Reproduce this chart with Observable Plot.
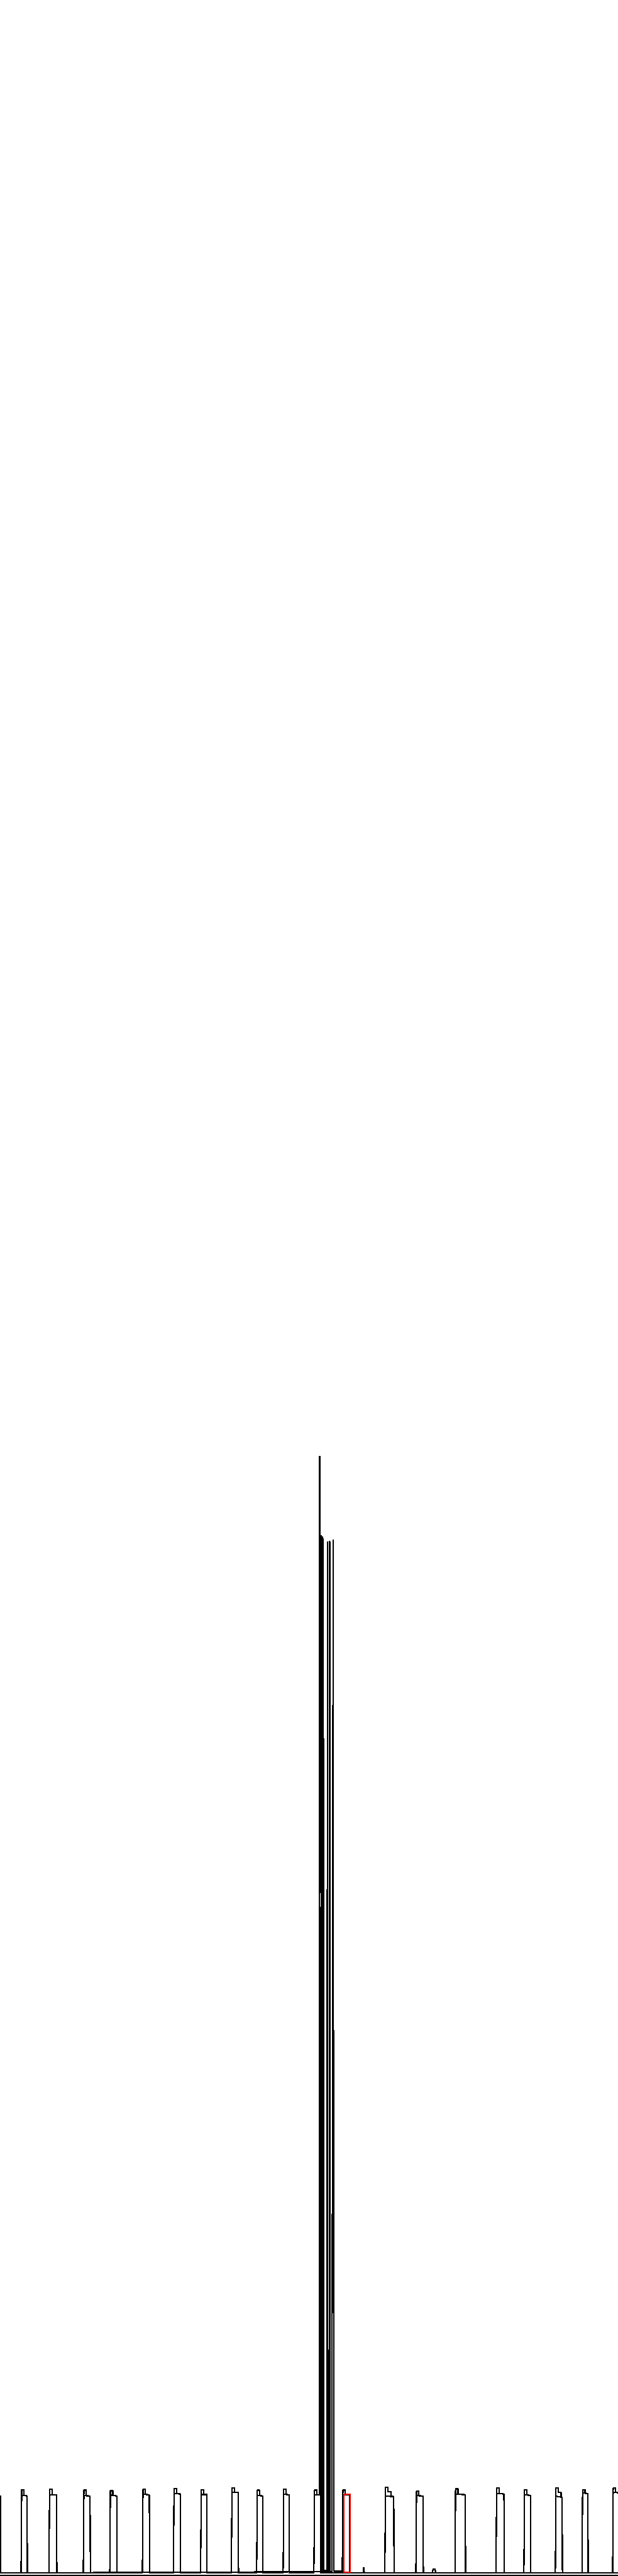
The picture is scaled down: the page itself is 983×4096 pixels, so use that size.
<!DOCTYPE html>
<html><head><meta charset="utf-8">
<script src="https://cdn.jsdelivr.net/npm/d3@7"></script>
<script src="https://cdn.jsdelivr.net/npm/@observablehq/plot@0.6"></script>
<style>html,body{margin:0;padding:0;background:#fff;overflow:hidden}#chart svg{display:block}</style>
</head><body><div id="chart"></div>
<script>
// Recurring pulses (day numbers and values)
const peakStart = [-8.25, 24.9, 57.4, 97.4, 128.25, 166.25, 202.4, 234.1, 269.9, 299.4, 330.25, 366.1, 399.15, 448.75, 484.9, 530.4, 578.25, 610.75, 647.4, 678.4, 714.1];
const peakEnd   = [0.25, 31.25, 65.6, 104.6, 135.6, 173.6, 209.6, 240.6, 277.25, 305.6, 336.4, 372.9, 406.75, 458.4, 492.6, 541.75, 586.75, 617.6, 654.6, 684.6, 723];
const capValue  = [19.4, 19.4, 19.55, 19.3, 19.15, 19.5, 19.7, 19.4, 19.85, 19.3, 19.5, 19.3, 19.3, 19.9, 19.05, 19.6, 19.8, 19.4, 19.8, 19.4, 19.8];
const topValue  = [17.9, 18.15, 18.25, 18.05, 18.15, 18.35, 18.55, 18.25, 18.85, 18.05, 18.35, 18.2, 18.25, 18.9, 18.05, 18.35, 18.55, 18.25, 18.75, 18.65, 18.75];
const endValue  = [17.9, 17.95, 18.15, 17.9, 17.95, 18.2, 18.4, 18.3, 18.75, 17.95, 18.2, 18.15, 18.15, 17.8, 17.9, 18.25, 18.4, 18.05, 17.6, 18.45, 18.7];
const shelfEnd  = [null, null, null, null, null, null, null, null, null, null, null, null, null, 455.0, null, null, null, null, 653.3, null, null];
const lowerTop  = [null, null, null, null, null, null, null, null, null, null, null, null, null, 17.9, null, null, null, null, 17.9, null, null];

// The cluster of very large values around days 371-389
const clusterA = [[365.35, 0], [366.1, 19.3], [368.9, 19.3], [368.95, 18.2], [371.5, 18.2], [372.1, 260.1], [376.0, 0.5], [376.6, 0]];
const clusterB = [[373.2, 0], [386.3, 0.3], [387.8, 240.6], [388.5, 0.4], [398.3, 0.4]];
const clusterC = [[373.0, 0.3], [374.0, 241.6], [374.6, 0.6], [380.4, 0.6], [381.25, 240.1], [381.6, 0.3], [382.5, 0]];
const clusterD = [[374.3, 0.3], [375.1, 241.3], [375.6, 0.5], [383.0, 0.5], [383.75, 240.3], [384.2, 0.3], [385.0, 0]];
const clusterE = [[375.3, 0.3], [376.3, 240.8], [376.9, 0.5], [377.5, 0]];
const smallBumpsE = [[422.8, 0], [423.1, 1.2], [423.8, 1.2], [424.1, 0], [503.6, 0], [504.1, 0.9], [506.6, 0.9], [507.2, 0]];

// Highlighted period (red box)
const highlight = [{x1: 400.5, x2: 408.0, y1: 0.1, y2: 18.3}];
const axisValue = -0.6;

function peakPath(i, withCap) {
  const s = peakStart[i], e = peakEnd[i];
  const low = lowerTop[i] == null ? topValue[i] : lowerTop[i];
  const pts = [[s - 0.75, 0]];
  if (withCap) {
    pts.push([s, capValue[i]], [s + 2.8, capValue[i]], [s + 2.85, topValue[i]]);
    if (shelfEnd[i] != null) pts.push([shelfEnd[i], topValue[i]], [shelfEnd[i] + 0.05, low]);
  } else {
    pts.push([s, low]);
  }
  pts.push([e, endValue[i]], [e + 0.3, 0]);
  return pts;
}

const rows = [];
function addSeries(name, pts) {
  const all = [[-12, 0], ...pts, [730, 0]].sort((a, b) => a[0] - b[0]);
  for (const [day, value] of all) rows.push({series: name, day, value});
}
const ptsA = [], ptsB = [];
peakStart.forEach((_, i) => {
  if (i !== 11) ptsA.push(...peakPath(i, true));
  ptsB.push(...peakPath(i, false));
});
addSeries("A", [...ptsA, ...clusterA]);
addSeries("B", [...ptsB, ...clusterB]);
addSeries("C", clusterC);
addSeries("D", clusterD);
addSeries("E", [...clusterE, ...smallBumpsE]);

const chart = Plot.plot({
  width: 983,
  height: 4096,
  margin: 0,
  x: {domain: [0, 720], axis: null},
  y: {domain: [-0.77, 599.23], axis: null},
  marks: [
    Plot.line(rows, {x: "day", y: "value", z: "series", stroke: "#000", strokeWidth: 2.2, clip: true, shapeRendering: "crispEdges"}),
    Plot.rect(highlight, {x1: "x1", x2: "x2", y1: "y1", y2: "y2", fill: "none", stroke: "#ff0000", strokeWidth: 2.2, shapeRendering: "crispEdges"}),
    Plot.ruleY([axisValue], {stroke: "#000", strokeWidth: 2.2, shapeRendering: "crispEdges"})
  ]
});
document.getElementById("chart").append(chart);
</script></body></html>
